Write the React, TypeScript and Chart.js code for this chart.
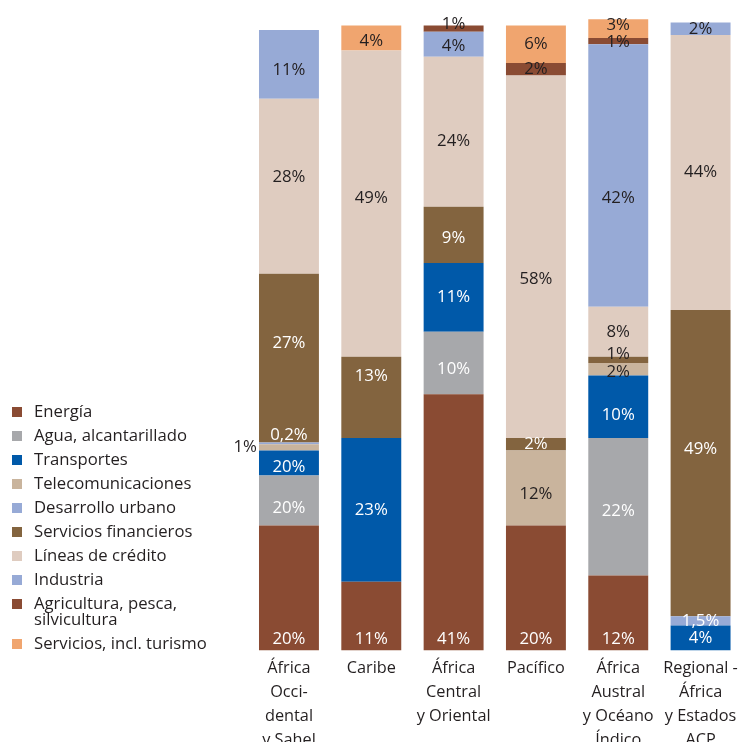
import React, { useEffect, useRef } from "react";
import { Chart, registerables } from "chart.js";
Chart.register(...registerables);

const CATEGORIES = [
  ["África", "Occi-", "dental", "y Sahel"],
  ["Caribe"],
  ["África", "Central", "y Oriental"],
  ["Pacífico"],
  ["África", "Austral", "y Océano", "Índico"],
  ["Regional -", "África", "y Estados", "ACP"],
];

const SERIES = [
  "Energía",
  "Agua, alcantarillado",
  "Transportes",
  "Telecomunicaciones",
  "Desarrollo urbano",
  "Servicios financieros",
  "Líneas de crédito",
  "Industria",
  "Agricultura, pesca,\nsilvicultura",
  "Servicios, incl. turismo",
];

const COLORS = [
  "#8A4B33",
  "#A7A8AB",
  "#0059A9",
  "#C9B49D",
  "#97AAD6",
  "#83643F",
  "#DFCCC0",
  "#97AAD6",
  "#8A4B33",
  "#F0A56F",
];

const ENERGIA = [20, 11, 41, 20, 12, null];
const AGUA = [8, null, 10, null, 22, null];
const TRANSPORTES = [4, 23, 11, null, 10, 4];
const TELECOM = [1, null, null, 12, 2, null];
const URBANO = [0.3, null, null, null, null, 1.5];
const FINANCIEROS = [27, 13, 9, 2, 1, 49];
const LINEAS = [28, 49, 24, 58, 8, 44];
const INDUSTRIA = [11, null, 4, null, 42, 2];
const AGRICULTURA = [null, null, 1, 2, 1, null];
const TURISMO = [null, 4, null, 6, 3, null];

const ENERGIA_TXT = ["20%", "11%", "41%", "20%", "12%", null];
const AGUA_TXT = ["20%", null, "10%", null, "22%", null];
const TRANSPORTES_TXT = ["20%", "23%", "11%", null, "10%", "4%"];
const TELECOM_TXT = ["1%", null, null, "12%", "2%", null];
const URBANO_TXT = ["0,2%", null, null, null, null, "1,5%"];
const FINANCIEROS_TXT = ["27%", "13%", "9%", "2%", "1%", "49%"];
const LINEAS_TXT = ["28%", "49%", "24%", "58%", "8%", "44%"];
const INDUSTRIA_TXT = ["11%", null, "4%", null, "42%", "2%"];
const AGRICULTURA_TXT = [null, null, "1%", "2%", "1%", null];
const TURISMO_TXT = [null, "4%", null, "6%", "3%", null];

const VALUES = [ENERGIA, AGUA, TRANSPORTES, TELECOM, URBANO, FINANCIEROS, LINEAS, INDUSTRIA, AGRICULTURA, TURISMO];
const TEXTS = [ENERGIA_TXT, AGUA_TXT, TRANSPORTES_TXT, TELECOM_TXT, URBANO_TXT, FINANCIEROS_TXT, LINEAS_TXT, INDUSTRIA_TXT, AGRICULTURA_TXT, TURISMO_TXT];

const DARK = "#231F20";
const WHITE_TEXT = [true, true, true, false, true, true, false, false, false, false];
const FONT = '"Open Sans", "DejaVu Sans", sans-serif';

// label placement tweaks: key "dataset,index"
const TWEAKS: Record<string, { dx?: number; dy?: number; dark?: boolean; left?: boolean }> = {
  "1,0": { dy: 8 },
  "2,0": { dy: 4 },
  "3,0": { left: true, dark: true },
  "4,0": { dy: -8 },
  "5,0": { dy: -15 },
  "6,0": { dy: -9 },
  "7,0": { dy: 6 },
  "5,1": { dy: -21 },
  "6,1": { dy: -5 },
  "9,1": { dy: 3 },
  "1,2": { dy: 6 },
  "5,2": { dy: 3 },
  "6,2": { dy: 9 },
  "7,2": { dy: 2 },
  "8,2": { dy: -4, dark: true },
  "3,3": { dy: 6 },
  "6,3": { dy: 22 },
  "1,4": { dy: 4 },
  "2,4": { dy: 8 },
  "3,4": { dy: 3 },
  "5,4": { dy: -6, dark: true },
  "7,4": { dy: 23 },
  "8,4": { dy: 1, dark: true },
  "9,4": { dy: -3 },
  "5,5": { dy: -14 },
  "7,5": { dy: 1 },
};

const segLabels = {
  id: "segLabels",
  afterDatasetsDraw(chart: any) {
    const ctx = chart.ctx;
    ctx.save();
    ctx.font = `16.8px ${FONT}`;
    ctx.textBaseline = "middle";
    chart.data.datasets.forEach((ds: any, di: number) => {
      const meta = chart.getDatasetMeta(di);
      meta.data.forEach((bar: any, i: number) => {
        const txt = TEXTS[di][i];
        if (!txt || ds.data[i] == null) return;
        const p = bar.getProps(["x", "y", "base", "width"], true);
        let tx = p.x;
        let ty = (p.y + p.base) / 2;
        let align: CanvasTextAlign = "center";
        if (di === 0) ty = p.base - 11;
        let white = WHITE_TEXT[di];
        const t = TWEAKS[`${di},${i}`];
        if (t) {
          if (t.left) {
            tx = p.x - p.width / 2 - 2;
            align = "right";
          }
          tx += t.dx || 0;
          ty += t.dy || 0;
          if (t.dark) white = false;
        }
        ctx.textAlign = align;
        ctx.fillStyle = white ? "#FFFFFF" : DARK;
        ctx.fillText(txt, tx, ty);
      });
    });
    ctx.restore();
  },
};

const sideLegend = {
  id: "sideLegend",
  afterDraw(chart: any) {
    const ctx = chart.ctx;
    ctx.save();
    ctx.font = `16.7px ${FONT}`;
    ctx.textBaseline = "middle";
    ctx.textAlign = "left";
    let y = 412;
    SERIES.forEach((name, i) => {
      const lines = name.split("\n");
      ctx.fillStyle = COLORS[i];
      ctx.fillRect(12, y - 5, 10, 10);
      ctx.fillStyle = DARK;
      lines.forEach((ln, k) => ctx.fillText(ln, 34, y + k * 16));
      y += 24 + (lines.length - 1) * 16;
    });
    ctx.restore();
  },
};

export default function App() {
  const ref = useRef<HTMLCanvasElement | null>(null);
  useEffect(() => {
    if (!ref.current) return;
    const chart = new Chart(ref.current, {
      type: "bar",
      data: {
        labels: CATEGORIES as any,
        datasets: SERIES.map((name, i) => ({
          label: name,
          data: VALUES[i] as any,
          backgroundColor: COLORS[i],
          borderWidth: 0,
          barPercentage: 0.728,
          categoryPercentage: 1,
        })),
      },
      options: {
        animation: false,
        responsive: true,
        maintainAspectRatio: false,
        layout: { padding: { left: 247.8, right: 1.8, top: 0.5, bottom: 0 } },
        plugins: { legend: { display: false }, tooltip: { enabled: false } },
        scales: {
          x: {
            stacked: true,
            grid: { display: false, drawTicks: false },
            border: { display: false },
            ticks: {
              autoSkip: false,
              maxRotation: 0,
              padding: 6,
              color: DARK,
              font: { family: FONT, size: 16.3, lineHeight: 1.47 },
            },
            afterFit: (scale: any) => {
              scale.height = 105.5;
            },
          },
          y: {
            stacked: true,
            display: false,
            min: 0,
            max: 104,
          },
        },
      },
      plugins: [segLabels, sideLegend],
    });
    return () => chart.destroy();
  }, []);
  return (
    <div style={{ position: "absolute", left: 0, top: 0, width: 744, height: 742, overflow: "hidden", background: "#fff" }}>
      <div style={{ position: "relative", width: 744, height: 756 }}>
        <canvas ref={ref} />
      </div>
    </div>
  );
}
